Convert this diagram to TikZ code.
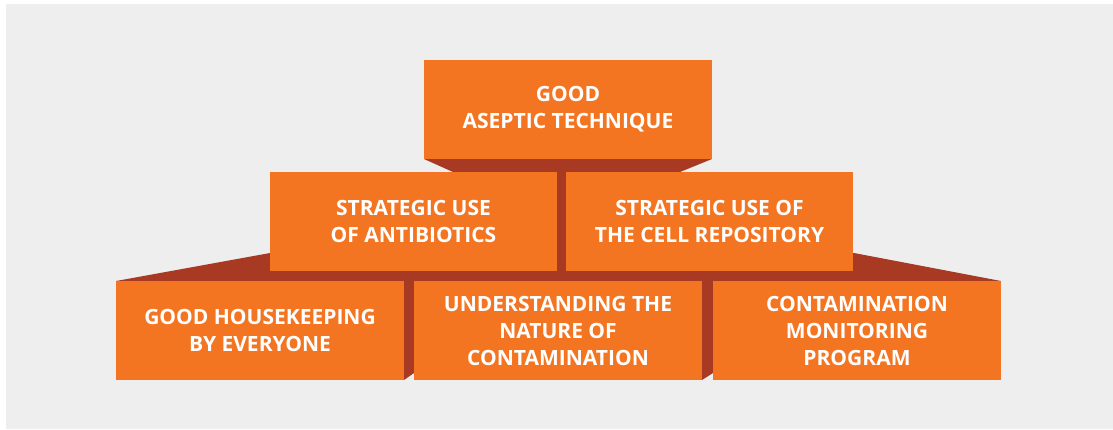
\documentclass[tikz,border=0pt]{standalone}
\usepackage{fontspec}
\setmainfont{Open Sans}
\definecolor{bg}{HTML}{EEEEEE}
\definecolor{boxor}{HTML}{F47521}
\definecolor{shade}{HTML}{A83A24}
\tikzset{
  blk/.style={fill=boxor, draw=none, minimum width=288pt, minimum height=99pt, inner sep=0pt,
    text=white, align=center, font=\bfseries\fontsize{21}{27}\selectfont},
  shd/.style={fill=shade, draw=none}
}
\begin{document}
\begin{tikzpicture}[x=1pt,y=-1pt]
\useasboundingbox (0,0) rectangle (1113,429);
\fill[bg] (6,4) rectangle (1113,429);
% shading
\fill[shd] (424,159) -- (712,159) -- (680,172) -- (453,172) -- cycle;
\fill[shd] (557,159) rectangle (566,271);
\fill[shd] (116,281) -- (270,253) -- (854,253) -- (1001,281) -- cycle;
\fill[shd] (404,281) -- (414,281) -- (414,373) -- (404,380) -- cycle;
\fill[shd] (702,281) -- (713,281) -- (713,373) -- (702,380) -- cycle;
% boxes
\node[blk] (top) at (568,109.5) {GOOD\\ASEPTIC TECHNIQUE};
\node[blk, minimum width=287pt] (ml) at (413.5,221.5) {STRATEGIC USE\\OF ANTIBIOTICS};
\node[blk, minimum width=287pt] (mr) at (709.5,221.5) {STRATEGIC USE OF\\THE CELL REPOSITORY};
\node[blk] (bl) at (260,330.5) {GOOD HOUSEKEEPING\\BY EVERYONE};
\node[blk] (bm) at (558,330.5) {UNDERSTANDING THE\\NATURE OF\\CONTAMINATION};
\node[blk] (br) at (857,330.5) {CONTAMINATION\\MONITORING\\PROGRAM};
\end{tikzpicture}
\end{document}
